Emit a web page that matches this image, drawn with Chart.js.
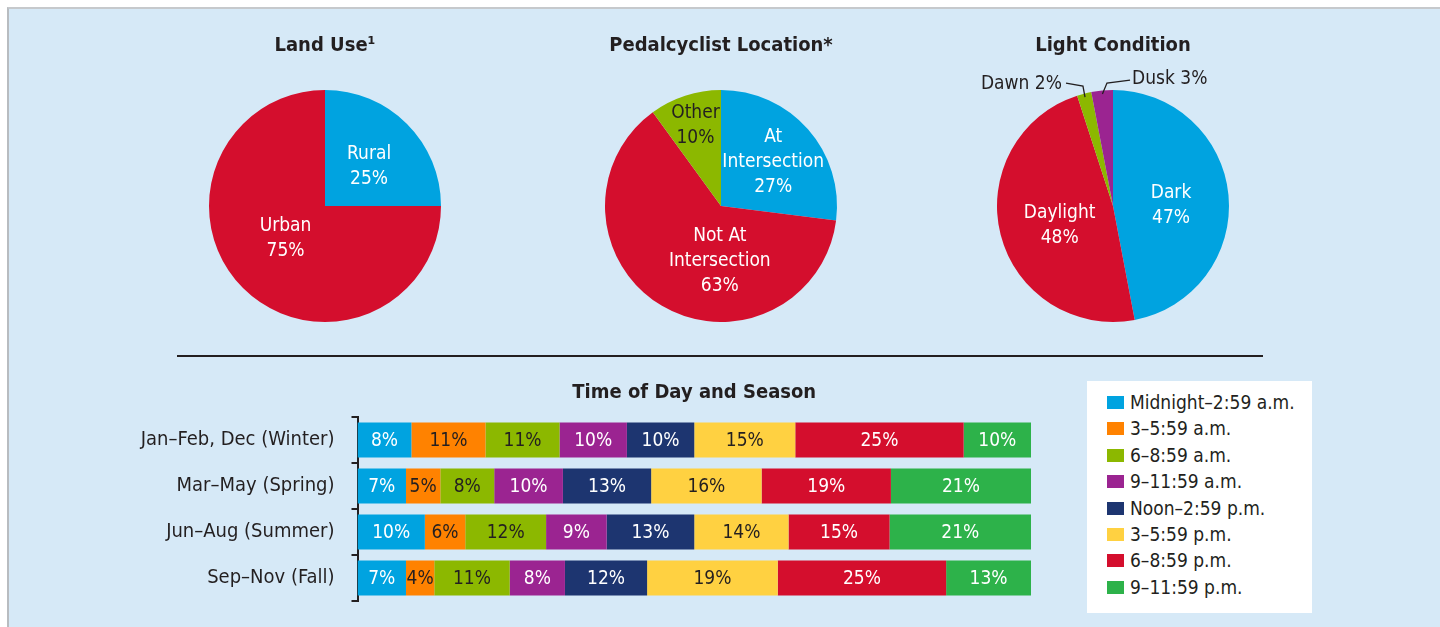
<!DOCTYPE html>
<html>
<head>
<meta charset="utf-8">
<script src="https://cdn.jsdelivr.net/npm/chart.js@4.4.1/dist/chart.umd.min.js"></script>
<style>
  body { margin:0; background:#fff; width:1440px; height:627px; overflow:hidden; position:relative; }
  #panel { position:absolute; left:7px; top:7px; right:0; bottom:0; background:#d6e9f7;
           border-top:2px solid #c6c9cc; border-left:2px solid #b8bcc0; }
  canvas { position:absolute; }
  #rule { position:absolute; left:177px; top:355px; width:1086px; height:2px; background:#231f20; }
  #legend { position:absolute; left:1087px; top:381px; width:225px; height:232px; background:#fff;
            box-sizing:border-box; padding-top:8px; }
  .item { height:26.4px; line-height:26.4px; position:relative; color:#231f20;
          font-size:19px; }
  .item i { position:absolute; left:20px; top:7px; width:17px; height:13px; }
  .item span { position:absolute; left:43px; white-space:nowrap; }
</style>
</head>
<body>
<div id="panel"></div>
<canvas id="pie1" width="300" height="294" style="left:175px;top:28px"></canvas>
<canvas id="pie2" width="300" height="294" style="left:571px;top:28px"></canvas>
<canvas id="pie3" width="300" height="294" style="left:963px;top:28px"></canvas>
<div id="rule"></div>
<canvas id="bars" width="931" height="260" style="left:100px;top:370px"></canvas>
<div id="legend"></div>
<script>
// --- data ---
const landLabels = ['Rural', 'Urban']
const landValues = [25, 75]

const locationLabels = [['At', 'Intersection'], ['Not At', 'Intersection'], 'Other']
const locationValues = [27, 63, 10]

const lightLabels = ['Dark', 'Daylight', 'Dawn', 'Dusk']
const lightValues = [47, 48, 2, 3]

const seasons = ['Jan–Feb, Dec (Winter)', 'Mar–May (Spring)', 'Jun–Aug (Summer)', 'Sep–Nov (Fall)']
const timeNames = ['Midnight–2:59 a.m.', '3–5:59 a.m.', '6–8:59 a.m.', '9–11:59 a.m.',
                   'Noon–2:59 p.m.', '3–5:59 p.m.', '6–8:59 p.m.', '9–11:59 p.m.']
// one array per time band, values for winter, spring, summer, fall
const midnight = [8, 7.2, 10, 7.2]
const early    = [11, 5.1, 6, 4.2]
const morning  = [11, 8.0, 12, 11.2]
const lateAm   = [10, 10.2, 9, 8.2]
const noon     = [10, 13.1, 13, 12.2]
const afternoon= [15, 16.4, 14, 19.4]
const evening  = [25, 19.2, 15, 25.0]
const night    = [10, 20.8, 21, 12.6]
const timeValues = [midnight, early, morning, lateAm, noon, afternoon, evening, night]

// --- styles ---
const BLUE='#00a3e0', ORANGE='#ff8200', GREEN='#8cb800', PURPLE='#9b2491',
      NAVY='#1d3570', YELLOW='#ffd141', RED='#d40e2d', GREEN2='#2db24a', INK='#231f20'
const timeColors = [BLUE, ORANGE, GREEN, PURPLE, NAVY, YELLOW, RED, GREEN2]
const timeText = ['#fff', INK, INK, '#fff', '#fff', INK, '#fff', '#fff']

const FONT = '"Liberation Sans Narrow", "Arial Narrow", "DejaVu Sans Condensed", Roboto, sans-serif'
Chart.defaults.font.family = FONT
Chart.defaults.color = INK
Chart.defaults.animation = false

// labels inside / beside pie slices, positions in radius units from the centre
const pieLabels = {
  id: 'pieLabels',
  afterDatasetsDraw(chart, args, opts) {
    let ctx = chart.ctx
    let arcs = chart.getDatasetMeta(0).data
    let values = chart.data.datasets[0].data
    ctx.save()
    ctx.font = '19px ' + FONT
    ctx.textBaseline = 'middle'
    opts.items.forEach((it, i) => {
      let arc = arcs[i]
      let r = arc.outerRadius
      let lab = chart.data.labels[i]
      let lines
      if (it.inline) lines = [lab + ' ' + values[i] + '%']
      else lines = [].concat(lab, values[i] + '%')
      let x = arc.x + it.dx * r
      let y = arc.y + it.dy * r - (lines.length - 1) * 25 / 2
      ctx.fillStyle = it.color
      ctx.textAlign = it.align || 'center'
      lines.forEach((t, k) => ctx.fillText(t, x, y + k * 25 + 1))
      if (it.lead) {
        let mid = (arc.startAngle + arc.endAngle) / 2
        ctx.strokeStyle = INK
        ctx.lineWidth = 1.3
        ctx.beginPath()
        ctx.moveTo(arc.x + it.lead[0] * r, arc.y + it.lead[1] * r)
        ctx.lineTo(arc.x + it.lead[2] * r, arc.y + it.lead[3] * r)
        ctx.lineTo(arc.x + Math.cos(mid) * r * 0.97, arc.y + Math.sin(mid) * r * 0.97)
        ctx.stroke()
      }
    })
    ctx.restore()
  }
}

function pie(id, title, labels, values, colors, items) {
  new Chart(document.getElementById(id), {
    type: 'pie',
    data: { labels: labels, datasets: [{ data: values, backgroundColor: colors, borderWidth: 0 }] },
    options: {
      responsive: false,
      events: [],
      plugins: {
        legend: { display: false },
        tooltip: { enabled: false },
        title: { display: true, text: title, color: INK,
                 font: { size: 20, weight: 'bold' }, padding: { top: 6, bottom: 32 } },
        pieLabels: { items: items }
      }
    },
    plugins: [pieLabels]
  })
}

pie('pie1', 'Land Use¹', landLabels, landValues, [BLUE, RED], [
  { dx: 0.38, dy: -0.35, color: '#fff' },
  { dx: -0.34, dy: 0.27, color: '#fff' }
])
pie('pie2', 'Pedalcyclist Location*', locationLabels, locationValues, [BLUE, RED, GREEN], [
  { dx: 0.45, dy: -0.39, color: '#fff' },
  { dx: -0.01, dy: 0.47, color: '#fff' },
  { dx: -0.22, dy: -0.70, color: INK }
])
pie('pie3', 'Light Condition', lightLabels, lightValues, [BLUE, RED, GREEN, PURPLE], [
  { dx: 0.50, dy: -0.01, color: '#fff' },
  { dx: -0.46, dy: 0.16, color: '#fff' },
  { dx: -0.44, dy: -1.06, color: INK, align: 'right', inline: true, lead: [-0.405, -1.06, -0.259, -1.034] },
  { dx: 0.164, dy: -1.099, color: INK, align: 'left', inline: true, lead: [0.147, -1.086, -0.052, -1.06] }
])

// percent labels in the middle of each bar piece
const barLabels = {
  id: 'barLabels',
  afterDatasetsDraw(chart) {
    let ctx = chart.ctx
    ctx.save()
    ctx.font = '19px ' + FONT
    ctx.textAlign = 'center'
    ctx.textBaseline = 'middle'
    chart.data.datasets.forEach((ds, di) => {
      chart.getDatasetMeta(di).data.forEach((bar, i) => {
        ctx.fillStyle = timeText[di]
        ctx.fillText(Math.round(ds.data[i]) + '%', (bar.x + bar.base) / 2, bar.y + 1)
      })
    })
    ctx.restore()
  }
}

new Chart(document.getElementById('bars'), {
  type: 'bar',
  data: {
    labels: seasons,
    datasets: timeNames.map((n, i) => ({
      label: n, data: timeValues[i], backgroundColor: timeColors[i],
      borderWidth: 0, barPercentage: 0.76, categoryPercentage: 1
    }))
  },
  options: {
    indexAxis: 'y',
    responsive: false,
    events: [],
    scales: {
      x: { stacked: true, min: 0, max: 100, display: false },
      y: {
        stacked: true,
        afterFit(scale) { scale.width = 257.5 },
        grid: { drawOnChartArea: false, tickLength: 6, color: INK, lineWidth: 2 },
        border: { display: true, color: INK, width: 2 },
        ticks: { color: INK, font: { size: 20 }, padding: 17 }
      }
    },
    plugins: {
      legend: { display: false },
      tooltip: { enabled: false },
      title: { display: true, fullSize: false, text: 'Time of Day and Season', color: INK,
               font: { size: 20, weight: 'bold' }, padding: { top: 11, bottom: 12 } }
    }
  },
  plugins: [barLabels]
})

// legend box
let legend = document.getElementById('legend')
timeNames.forEach((n, i) => {
  let row = document.createElement('div')
  row.className = 'item'
  row.style.fontFamily = FONT
  row.innerHTML = '<i style="background:' + timeColors[i] + '"></i><span>' + n + '</span>'
  legend.appendChild(row)
})
</script>
</body>
</html>
